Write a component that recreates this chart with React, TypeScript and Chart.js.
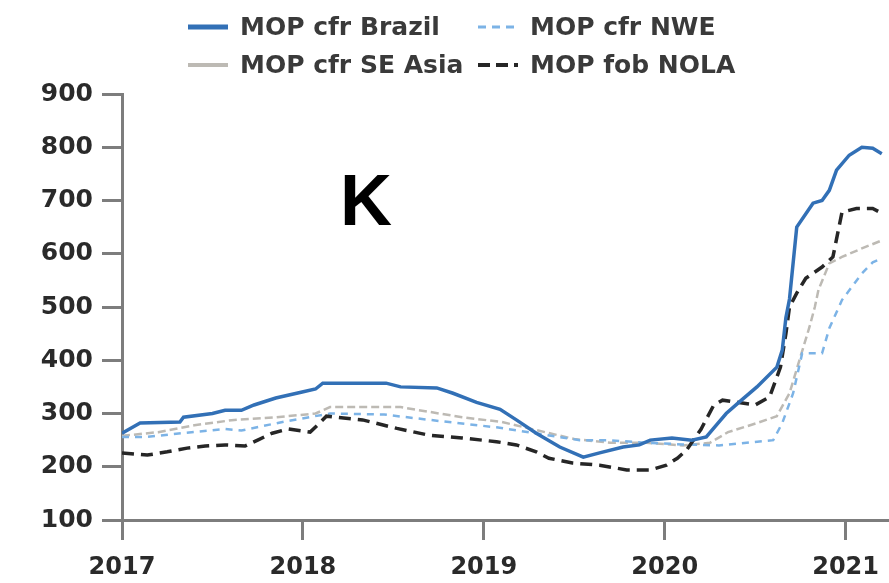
import React, { useEffect, useRef } from "react";
import { Chart, registerables } from "chart.js";

Chart.register(...registerables);

// ---- Data ----
const yearTicks = [2017, 2018, 2019, 2020, 2021];
const valueTicks = [100, 200, 300, 400, 500, 600, 700, 800, 900];

const brazilX = [2017.0, 2017.1, 2017.32, 2017.34, 2017.5, 2017.57, 2017.66, 2017.73, 2017.85, 2017.99, 2018.07, 2018.11, 2018.46, 2018.54, 2018.74, 2018.83, 2018.96, 2019.09, 2019.18, 2019.29, 2019.42, 2019.55, 2019.64, 2019.77, 2019.86, 2019.92, 2020.04, 2020.15, 2020.23, 2020.29, 2020.34, 2020.41, 2020.51, 2020.62, 2020.65, 2020.67, 2020.69, 2020.73, 2020.82, 2020.87, 2020.91, 2020.95, 2021.02, 2021.09, 2021.15, 2021.2];
const brazilY = [263, 282, 284, 293, 300, 306, 306, 316, 329, 340, 346, 357, 357, 350, 348, 338, 321, 308, 288, 263, 237, 218, 226, 237, 241, 250, 254, 250, 256, 280, 300, 321, 350, 387, 419, 480, 515, 650, 695, 700, 719, 757, 785, 800, 798, 788];

const nweX = [2017.0, 2017.14, 2017.33, 2017.57, 2017.66, 2017.9, 2018.15, 2018.45, 2018.7, 2019.07, 2019.3, 2019.53, 2019.68, 2019.9, 2020.1, 2020.3, 2020.6, 2020.65, 2020.71, 2020.76, 2020.87, 2020.91, 2020.98, 2021.09, 2021.15, 2021.2];
const nweY = [256, 256, 263, 271, 268, 285, 300, 298, 288, 274, 262, 250, 250, 245, 242, 240, 250, 282, 338, 413, 413, 460, 513, 563, 584, 591];

const seAsiaX = [2017.0, 2017.2, 2017.4, 2017.62, 2017.85, 2018.07, 2018.15, 2018.54, 2018.7, 2018.88, 2019.1, 2019.3, 2019.5, 2019.7, 2019.9, 2020.1, 2020.25, 2020.35, 2020.51, 2020.62, 2020.69, 2020.75, 2020.8, 2020.83, 2020.85, 2020.91, 2020.98, 2021.09, 2021.2];
const seAsiaY = [258, 265, 278, 288, 293, 300, 312, 312, 303, 293, 284, 268, 252, 245, 245, 240, 245, 265, 282, 295, 338, 406, 462, 500, 532, 582, 594, 610, 625];

const nolaX = [2017.0, 2017.14, 2017.25, 2017.36, 2017.46, 2017.57, 2017.68, 2017.75, 2017.83, 2017.92, 2018.04, 2018.08, 2018.13, 2018.18, 2018.33, 2018.52, 2018.7, 2018.88, 2019.07, 2019.18, 2019.29, 2019.36, 2019.49, 2019.64, 2019.79, 2019.92, 2020.01, 2020.07, 2020.12, 2020.2, 2020.27, 2020.32, 2020.5, 2020.58, 2020.64, 2020.67, 2020.69, 2020.73, 2020.78, 2020.87, 2020.93, 2020.98, 2021.06, 2021.15, 2021.2];
const nolaY = [226, 222, 228, 235, 239, 241, 239, 250, 263, 271, 265, 278, 295, 293, 288, 272, 259, 254, 247, 241, 228, 216, 207, 203, 194, 194, 203, 216, 231, 270, 315, 325, 316, 331, 387, 450, 500, 526, 554, 575, 594, 678, 685, 685, 676];

const seriesNames = ["MOP cfr Brazil", "MOP cfr NWE", "MOP cfr SE Asia", "MOP fob NOLA"];
const seriesColors = ["#3270b6", "#7cb3e6", "#bdbab4", "#262626"];

const pts = (xs: number[], ys: number[]) => xs.map((x, i) => ({ x, y: ys[i] }));

const FONT = "'DejaVu Sans', Verdana, sans-serif";

function LegendItem({ label, color, dash, width }: { label: string; color: string; dash?: string; width: number }) {
  return (
    <div style={{ display: "flex", alignItems: "center" }}>
      <svg width={40} height={10} style={{ marginRight: 12 }}>
        <line x1={0} y1={5} x2={40} y2={5} stroke={color} strokeWidth={width} strokeDasharray={dash} />
      </svg>
      <span>{label}</span>
    </div>
  );
}

export default function App() {
  const canvasRef = useRef<HTMLCanvasElement | null>(null);

  useEffect(() => {
    document.body.style.margin = "0";
    const canvas = canvasRef.current;
    if (!canvas) return;
    const axisColor = "#7d7d7d";
    const chart = new Chart(canvas, {
      type: "line",
      data: {
        datasets: [
          { label: seriesNames[0], data: pts(brazilX, brazilY), borderColor: seriesColors[0], borderWidth: 3.5, pointRadius: 0, tension: 0, fill: false },
          { label: seriesNames[3], data: pts(nolaX, nolaY), borderColor: seriesColors[3], borderWidth: 3.5, borderDash: [12, 7], pointRadius: 0, tension: 0, fill: false },
          { label: seriesNames[1], data: pts(nweX, nweY), borderColor: seriesColors[1], borderWidth: 2.5, borderDash: [7, 6], pointRadius: 0, tension: 0, fill: false },
          { label: seriesNames[2], data: pts(seAsiaX, seAsiaY), borderColor: seriesColors[2], borderWidth: 2.5, borderDash: [8, 4], pointRadius: 0, tension: 0, fill: false },
        ],
      },
      options: {
        responsive: false,
        animation: false,
        layout: { padding: { top: 94, left: 0, right: 0, bottom: 0 } },
        plugins: { legend: { display: false }, tooltip: { enabled: false } },
        scales: {
          x: {
            type: "linear",
            min: 2017,
            max: 2021.24,
            afterBuildTicks: (scale: any) => {
              scale.ticks = yearTicks.map((v) => ({ value: v }));
            },
            afterFit: (scale: any) => {
              scale.height = 63;
              scale.paddingRight = 0;
            },
            border: { display: true, color: axisColor, width: 3 },
            grid: { drawOnChartArea: false, drawTicks: true, tickLength: 20, color: axisColor, lineWidth: 3 },
            ticks: {
              padding: 13,
              color: "#2a2a2a",
              font: { family: FONT, size: 24, weight: "bold" },
              maxRotation: 0,
              autoSkip: false,
              callback: (v: any) => String(v),
            },
          },
          y: {
            type: "linear",
            min: 100,
            max: 900,
            afterBuildTicks: (scale: any) => {
              scale.ticks = valueTicks.map((v) => ({ value: v }));
            },
            afterFit: (scale: any) => {
              scale.width = 122;
            },
            border: { display: true, color: axisColor, width: 3 },
            grid: { drawOnChartArea: false, drawTicks: true, tickLength: 20, color: axisColor, lineWidth: 3 },
            ticks: {
              padding: 9,
              color: "#2a2a2a",
              font: { family: FONT, size: 25, weight: "bold" },
              callback: (v: any) => String(v),
            },
          },
        },
      },
    });
    return () => chart.destroy();
  }, []);

  return (
    <div style={{ position: "relative", width: 889, height: 583, background: "#fff", overflow: "hidden" }}>
      <canvas ref={canvasRef} width={889} height={583} style={{ position: "absolute", left: 0, top: 0, width: 889, height: 583 }} />
      <div
        style={{
          position: "absolute",
          left: 188,
          top: 12,
          display: "grid",
          gridTemplateColumns: "290px auto",
          rowGap: 8,
          fontFamily: FONT,
          fontWeight: "bold",
          fontSize: 25,
          lineHeight: "30px",
          color: "#3a3a3a",
        }}
      >
        <LegendItem label={seriesNames[0]} color={seriesColors[0]} width={5} />
        <LegendItem label={seriesNames[1]} color={seriesColors[1]} width={3} dash="8 6" />
        <LegendItem label={seriesNames[2]} color={seriesColors[2]} width={4} />
        <LegendItem label={seriesNames[3]} color={seriesColors[3]} width={4} dash="12 6" />
      </div>
      <div
        style={{
          position: "absolute",
          left: 340,
          top: 164,
          fontFamily: "'Liberation Sans', Arial, sans-serif",
          fontWeight: "bold",
          fontSize: 72,
          lineHeight: "72px",
          color: "#000",
        }}
      >
        K
      </div>
    </div>
  );
}
